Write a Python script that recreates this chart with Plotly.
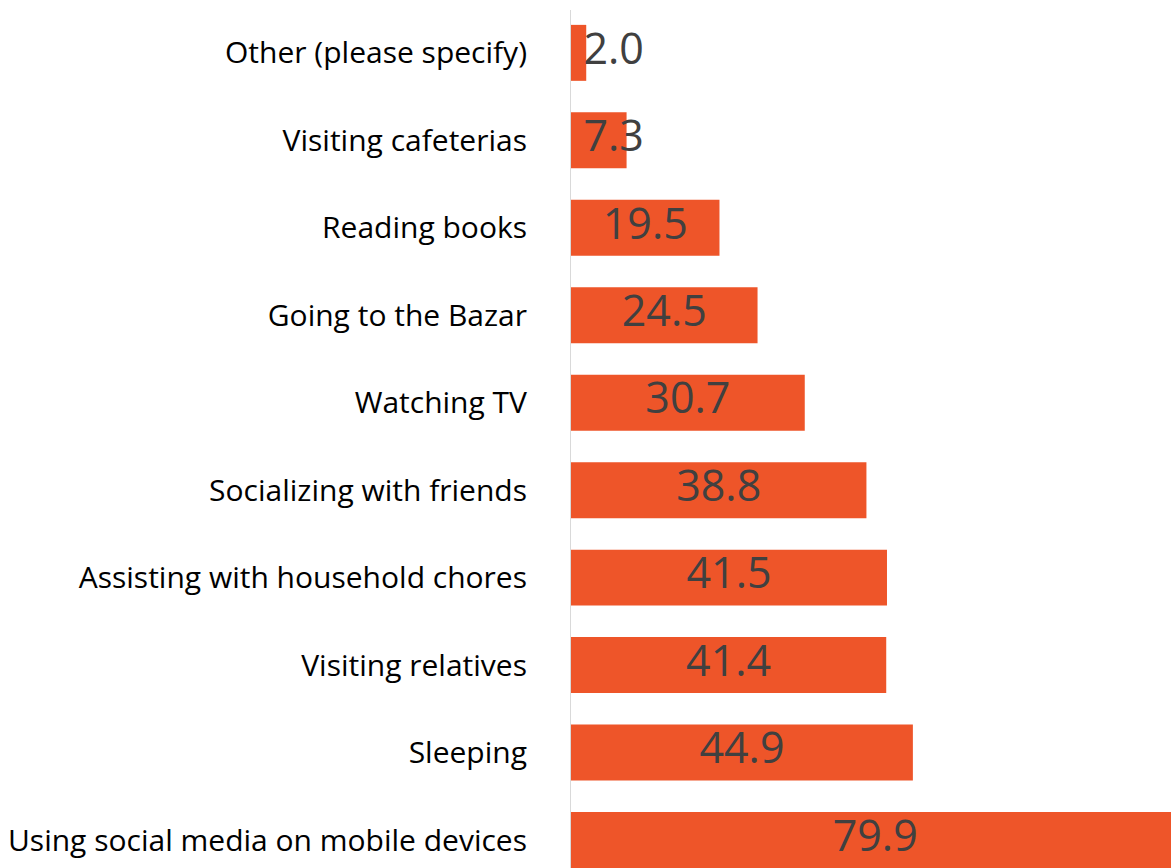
import plotly.graph_objects as go

# activities, bottom to top as drawn
activities = [
    "Using social media on mobile devices",
    "Sleeping",
    "Visiting relatives",
    "Assisting with household chores",
    "Socializing with friends",
    "Watching TV",
    "Going to the Bazar",
    "Reading books",
    "Visiting cafeterias",
    "Other (please specify)",
]
shares = [79.9, 44.9, 41.4, 41.5, 38.8, 30.7, 24.5, 19.5, 7.3, 2.0]

BAR_COLOR = "#EE5529"

fig = go.Figure()

fig.add_trace(go.Bar(
    x=shares,
    y=activities,
    orientation="h",
    marker=dict(color=BAR_COLOR, line=dict(width=0)),
    hoverinfo="skip",
))

# value labels sit mid-bar, small bars push them out a little
label_x = [max(v / 2, 5.6) for v in shares]
fig.add_trace(go.Scatter(
    x=label_x,
    y=activities,
    mode="text",
    text=[f"{v:.1f}" for v in shares],
    textposition="middle center",
    textfont=dict(family="Open Sans", size=43, color="#404040"),
    cliponaxis=False,
    hoverinfo="skip",
))

fig.update_layout(
    width=1171,
    height=868,
    margin=dict(l=571, r=0, t=10, b=0),
    plot_bgcolor="white",
    paper_bgcolor="white",
    showlegend=False,
    bargap=0.36,
    font=dict(family="Open Sans", color="#000000"),
)
fig.update_xaxes(
    range=[0, 78.8],
    automargin=False,
    showgrid=False,
    zeroline=False,
    showticklabels=False,
    showline=False,
)
fig.update_yaxes(
    range=[-0.32, 9.49],
    automargin=False,
    showgrid=False,
    showline=True,
    linecolor="#d9d9d9",
    linewidth=1,
    ticks="",
    ticklabelstandoff=37,
    tickfont=dict(family="Open Sans", size=30, color="#000000"),
)

# drop the default body margin so the figure fills the window exactly
fig.write_html(
    "out.html",
    config={"displayModeBar": False},
    post_script="document.body.style.margin='0';",
)
